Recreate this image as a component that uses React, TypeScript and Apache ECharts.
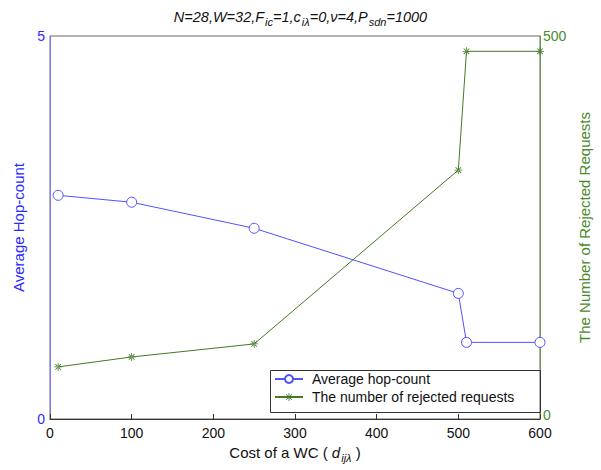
import React, { useEffect, useRef } from "react";
import * as echarts from "echarts";

const costs = [10, 100, 250, 500, 510, 600];
const hopCount = [2.92, 2.83, 2.49, 1.64, 1.0, 1.0];
const rejected = [68, 81, 98, 325, 480, 480];
const seriesNames = ["Average hop-count", "The number of rejected requests"];

const BLUE_LINE = "#5252ff";
const BLUE_TEXT = "#2a2aff";
const GREEN_LINE = "#437a26";
const GREEN_TEXT = "#4b8a2c";
const FONT = "Liberation Sans";

const STAR =
  "path://M-0.77 -0.63 L0.63 0.77 L0.77 0.63 L-0.63 -0.77 Z M-0.63 0.77 L0.77 -0.63 L0.63 -0.77 L-0.77 0.63 Z M-1 -0.1 L1 -0.1 L1 0.1 L-1 0.1 Z M-0.1 -1 L0.1 -1 L0.1 1 L-0.1 1 Z";

export default function App() {
  const ref = useRef<HTMLDivElement>(null);
  useEffect(() => {
    if (!ref.current) return;
    const chart = echarts.init(ref.current, null, { renderer: "svg" });
    const sub = { fontSize: 11, fontStyle: "italic", fontFamily: FONT, color: "#111", padding: [10, 0, 0, 1] };
    chart.setOption({
      animation: false,
      backgroundColor: "#fff",
      textStyle: { fontFamily: FONT },
      title: {
        left: "center",
        top: 1,
        text: "N=28,W=32,F{s|ic}=1,c{s|iλ}=0,ν=4,P{s|sdn}=1000",
        textStyle: {
          fontSize: 14.5,
          fontStyle: "italic",
          fontWeight: "normal",
          fontFamily: FONT,
          color: "#111",
          rich: { s: sub },
        },
      },
      grid: {
        left: 50,
        right: 61,
        top: 36,
        bottom: 51,
        show: true,
        borderColor: "#666",
        borderWidth: 1,
        backgroundColor: "transparent",
      },
      graphic: [
        {
          type: "rect",
          left: 268,
          top: 368,
          z: 10,
          shape: { width: 270, height: 42 },
          style: { fill: "none", stroke: "#333", lineWidth: 1 },
        },
      ],
      legend: {
        orient: "vertical",
        left: 268,
        top: 368,
        data: seriesNames,
        backgroundColor: "#fff",
        borderWidth: 0,
        padding: [4, 10, 3, 6],
        itemGap: 4,
        itemWidth: 28,
        itemHeight: 10,
        textStyle: { fontSize: 14, color: "#111", fontFamily: FONT, padding: [0, 0, 0, 4] },
      },
      xAxis: {
        type: "value",
        min: 0,
        max: 600,
        interval: 100,
        name: "Cost of a WC ( {i|d}{s|ijλ} )",
        nameLocation: "middle",
        nameGap: 23,
        nameTextStyle: {
          fontSize: 15,
          color: "#111",
          fontFamily: FONT,
          rich: {
            i: { fontSize: 15, fontStyle: "italic", color: "#111", fontFamily: FONT },
            s: sub,
          },
        },
        axisLine: { lineStyle: { color: "#333" } },
        axisTick: { inside: true, length: 5, lineStyle: { color: "#333" } },
        axisLabel: { fontSize: 14, color: "#111", margin: 7 },
        splitLine: { show: false },
      },
      yAxis: [
        {
          type: "value",
          min: 0,
          max: 5,
          interval: 5,
          position: "left",
          name: "Average Hop-count",
          nameLocation: "middle",
          nameGap: 23,
          nameTextStyle: { fontSize: 15, color: BLUE_TEXT },
          axisLine: { show: true, lineStyle: { color: "#7b7bff" } },
          axisTick: { show: false },
          axisLabel: { fontSize: 14, color: BLUE_TEXT, margin: 5 },
          splitLine: { show: false },
        },
        {
          type: "value",
          min: 0,
          max: 500,
          interval: 500,
          position: "right",
          name: "The Number of Rejected Requests",
          nameLocation: "middle",
          nameGap: 35,
          nameRotate: 90,
          nameTextStyle: { fontSize: 15, color: GREEN_TEXT },
          axisLine: { show: true, lineStyle: { color: "#6a9a4a" } },
          axisTick: { show: false },
          axisLabel: {
            fontSize: 14,
            color: GREEN_TEXT,
            margin: 3,
            formatter: (v: number) => (v === 0 ? "{z|" + v + "}" : "{n|" + v + "}"),
            rich: {
              z: { fontSize: 14, color: GREEN_TEXT, fontFamily: FONT, lineHeight: 14, padding: [0, 0, 8, 0] },
              n: { fontSize: 14, color: GREEN_TEXT, fontFamily: FONT },
            },
          },
          splitLine: { show: false },
        },
      ],
      series: [
        {
          name: seriesNames[0],
          type: "line",
          yAxisIndex: 0,
          data: costs.map((c, i) => [c, hopCount[i]]),
          symbol: "circle",
          symbolSize: 10,
          lineStyle: { color: BLUE_LINE, width: 1 },
          itemStyle: { color: "#fff", borderColor: BLUE_LINE, borderWidth: 1 },
        },
        {
          name: seriesNames[1],
          type: "line",
          yAxisIndex: 1,
          data: costs.map((c, i) => [c, rejected[i]]),
          symbol: STAR,
          symbolSize: 8,
          lineStyle: { color: GREEN_LINE, width: 1 },
          itemStyle: { color: GREEN_LINE, borderWidth: 0 },
        },
      ],
    });
    return () => chart.dispose();
  }, []);
  return <div ref={ref} style={{ width: 601, height: 470, position: "absolute", left: 0, top: 0 }} />;
}
